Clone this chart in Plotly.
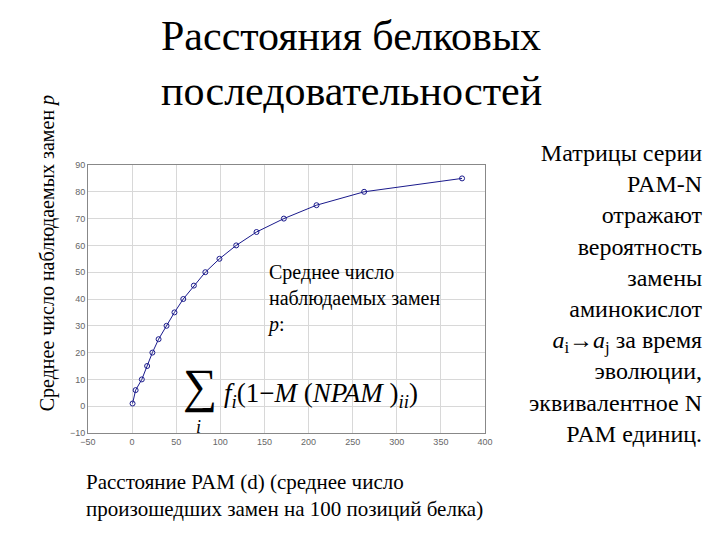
import plotly.graph_objects as go

# PAM distance (d) vs observed substitutions p
pam_d = [0.5, 4, 11, 17, 23, 30, 39, 48, 58, 70, 83, 99, 118, 141, 172, 209, 263, 374]
p_obs = [1, 6, 10, 15, 20, 25, 30, 35, 40, 45, 50, 55, 60, 65, 70, 75, 80, 85]

serif = "Liberation Serif"

fig = go.Figure(go.Scatter(
    x=pam_d, y=p_obs, mode="lines+markers",
    line=dict(color="#1a1a8c", width=1),
    marker=dict(symbol="circle-open", size=5, color="#1a1a8c"),
))

fig.update_layout(
    width=720, height=540, plot_bgcolor="white", paper_bgcolor="white",
    showlegend=False, font=dict(color="black"),
    margin=dict(l=80, r=243, t=157, b=115),
    xaxis=dict(range=[-50, 400], dtick=50, showgrid=True, gridcolor="#d8d8d8",
               zeroline=False, showline=True, linecolor="#888", mirror=True,
               ticks="", tickfont=dict(size=9, color="#666", family="Liberation Sans")),
    yaxis=dict(range=[-10, 90], dtick=10, showgrid=True, gridcolor="#d8d8d8",
               zeroline=False, showline=True, linecolor="#888", mirror=True,
               ticks="", tickfont=dict(size=9, color="#666", family="Liberation Sans")),
)

ann = [
    dict(x=0.21, y=0.995, text="Расстояния белковых<br>последовательностей",
         font=dict(size=42, family=serif), xanchor="left", yanchor="top", align="left"),
    dict(x=0.968, y=0.76, text="Матрицы серии<br>PAM-N<br>отражают<br>вероятность<br>замены<br>аминокислот<br>"
         "<i>a</i><sub>i</sub>→<i>a</i><sub>j</sub> за время<br>эволюции,<br>эквивалентное N<br>PAM единиц.",
         font=dict(size=24, family=serif), xanchor="right", yanchor="top", align="right"),
    dict(x=0.105, y=0.148, text="Расстояние PAM (d) (среднее число<br>произошедших замен на 100 позиций белка)",
         font=dict(size=21, family=serif), xanchor="left", yanchor="top", align="left"),
    dict(x=0.055, y=0.545, text="Среднее число наблюдаемых замен <i>p</i>", textangle=-90,
         font=dict(size=20, family=serif), xanchor="center", yanchor="middle"),
    dict(x=0.357, y=0.535, text="Среднее число<br>наблюдаемых замен<br><i>p</i>:",
         font=dict(size=20, family=serif), xanchor="left", yanchor="top", align="left"),
    dict(x=0.24, y=0.30, text="<span style='font-size:48px'>∑</span> <i>f<sub>i</sub></i>(1−<i>M</i> (<i>NPAM</i> )<sub><i>ii</i></sub>)",
         font=dict(size=27, family=serif), xanchor="left", yanchor="middle"),
    dict(x=0.265, y=0.225, text="<i>i</i>", font=dict(size=18, family=serif),
         xanchor="center", yanchor="middle"),
]
for a in ann:
    a.update(xref="paper", yref="paper", showarrow=False)
    a["x"] = (a["x"] * 720 - 80) / (720 - 80 - 243)
    a["y"] = (a["y"] * 540 - 115) / (540 - 157 - 115)
fig.update_layout(annotations=ann)

fig.write_html("out.html")
